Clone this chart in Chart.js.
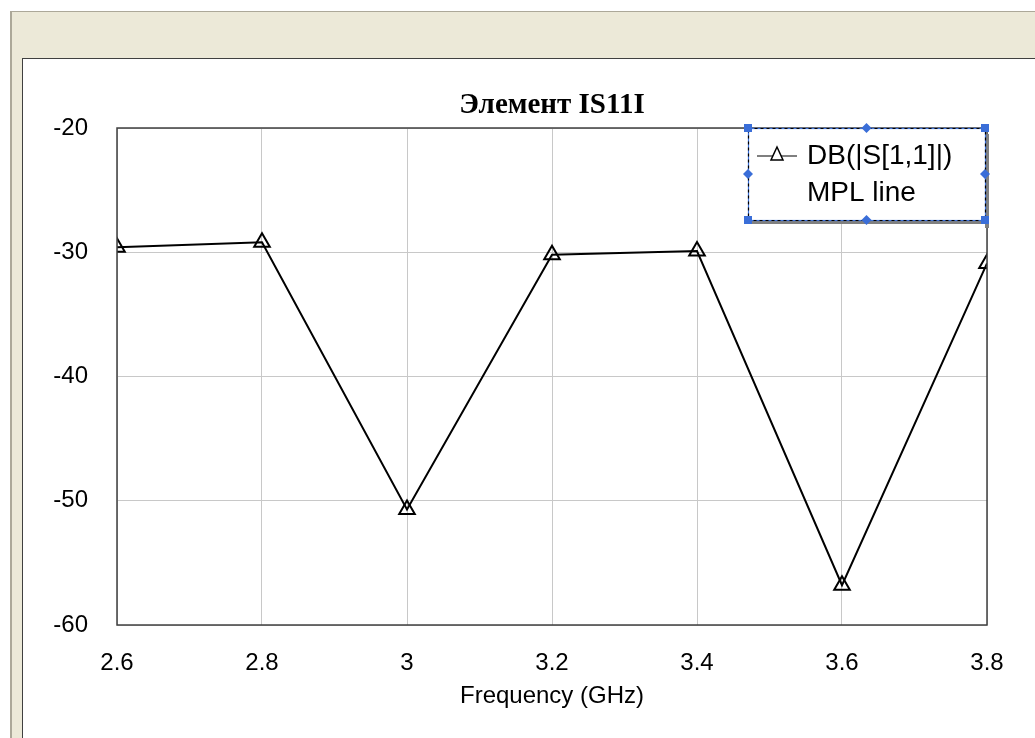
<!DOCTYPE html>
<html>
<head>
<meta charset="utf-8">
<script src="https://cdn.jsdelivr.net/npm/chart.js@4/dist/chart.umd.min.js"></script>
<style>
  body { margin: 0; background: #ffffff; width: 1035px; height: 738px; overflow: hidden; }
  #frame { position: absolute; left: 10px; top: 11px; width: 1025px; height: 727px;
    background: #ece9d8; border-left: 2px solid #aca899; border-top: 1px solid #aca899; box-sizing: border-box; }
  #panel { position: absolute; left: 22px; top: 58px; width: 1013px; height: 680px;
    background: #ffffff; border-left: 1px solid #404040; border-top: 1px solid #404040; box-sizing: border-box; }
  #chart { position: absolute; left: 0; top: 0; }
</style>
</head>
<body>
<div id="frame"></div>
<div id="panel">
  <canvas id="chart" width="1012" height="679"></canvas>
</div>
<script>
// ==================== données ====================
const freqs = [2.6, 2.8, 3.0, 3.2, 3.4, 3.6, 3.8];
const s11 = [-29.6, -29.2, -50.7, -30.2, -29.9, -56.8, -30.9];
const chartTitle = "Элемент IS11I";
const legendLines = ["DB(|S[1,1]|)", "MPL line"];
const xTitle = "Frequency (GHz)";

const points = freqs.map((f, i) => ({ x: f, y: s11[i] }));
const tickFont = { family: "'Liberation Sans', Arial", size: 24 };

// titre centré sur la zone du graphique
const titlePlugin = {
  id: "plotTitle",
  afterDraw(chart) {
    const ctx = chart.ctx;
    const area = chart.chartArea;
    ctx.save();
    ctx.font = "bold 29px 'Liberation Serif'";
    ctx.fillStyle = "#000";
    ctx.textAlign = "center";
    ctx.textBaseline = "alphabetic";
    ctx.fillText(chartTitle, (area.left + area.right) / 2, area.top - 15);
    ctx.restore();
  }
};

// cadre autour de la zone + légende sélectionnée
const framePlugin = {
  id: "plotFrame",
  afterDraw(chart) {
    const ctx = chart.ctx;
    const a = chart.chartArea;
    ctx.save();
    ctx.strokeStyle = "#404040";
    ctx.lineWidth = 1.5;
    ctx.strokeRect(a.left, a.top, a.right - a.left, a.bottom - a.top);

    // légende
    const bx = a.right - 239, by = a.top, bw = 237, bh = 92;
    ctx.fillStyle = "#808080";
    ctx.fillRect(bx + bw, by + 6, 4, bh + 2);
    ctx.fillRect(bx + 4, by + bh, bw, 4);
    ctx.fillStyle = "#fff";
    ctx.fillRect(bx, by, bw, bh);
    ctx.lineWidth = 1.2;
    ctx.strokeStyle = "#3a6ed8";
    ctx.strokeRect(bx + 0.5, by + 0.5, bw, bh);
    ctx.setLineDash([3, 3]);
    ctx.strokeStyle = "#000";
    ctx.strokeRect(bx + 0.5, by + 0.5, bw, bh);
    ctx.setLineDash([]);

    // échantillon
    const sy = by + 28;
    ctx.strokeStyle = "#000";
    ctx.lineWidth = 1.2;
    ctx.beginPath();
    ctx.moveTo(bx + 9, sy);
    ctx.lineTo(bx + 49, sy);
    ctx.stroke();
    ctx.fillStyle = "#fff";
    ctx.lineWidth = 1.5;
    ctx.beginPath();
    ctx.moveTo(bx + 29, sy - 9);
    ctx.lineTo(bx + 35, sy + 4);
    ctx.lineTo(bx + 23, sy + 4);
    ctx.closePath();
    ctx.fill();
    ctx.stroke();

    ctx.fillStyle = "#000";
    ctx.font = "28px 'Liberation Sans', Arial";
    ctx.textAlign = "left";
    ctx.textBaseline = "middle";
    ctx.fillText(legendLines[0], bx + 59, by + 28);
    ctx.fillText(legendLines[1], bx + 59, by + 65);

    // poignées de sélection
    ctx.fillStyle = "#3a6ed8";
    const corners = [[bx, by], [bx + bw, by], [bx, by + bh], [bx + bw, by + bh]];
    corners.forEach(c => ctx.fillRect(c[0] - 4, c[1] - 4, 8, 8));
    const mids = [[bx + bw / 2, by], [bx, by + bh / 2], [bx + bw, by + bh / 2], [bx + bw / 2, by + bh]];
    mids.forEach(m => {
      ctx.beginPath();
      ctx.moveTo(m[0], m[1] - 5);
      ctx.lineTo(m[0] + 5, m[1]);
      ctx.lineTo(m[0], m[1] + 5);
      ctx.lineTo(m[0] - 5, m[1]);
      ctx.closePath();
      ctx.fill();
    });
    ctx.restore();
  }
};

const ctx = document.getElementById("chart").getContext("2d");
const chart = new Chart(ctx, {
  type: "line",
  data: {
    datasets: [
      {
        label: legendLines[0],
        data: points,
        borderColor: "#000",
        borderWidth: 2,
        backgroundColor: "rgba(255,255,255,0)",
        pointStyle: "triangle",
        pointRadius: 9,
        pointBorderWidth: 2,
        pointBorderColor: "#000",
        pointBackgroundColor: "rgba(255,255,255,0)",
        tension: 0,
      },
    ],
  },
  plugins: [titlePlugin, framePlugin],
  options: {
    responsive: false,
    animation: false,
    layout: { padding: { left: 0, top: 69, right: 48, bottom: 0 } },
    plugins: {
      legend: { display: false },
      title: { display: false },
      tooltip: { enabled: false },
    },
    scales: {
      x: {
        type: "linear",
        min: 2.6,
        max: 3.8,
        afterFit(scale) { scale.height = 113; },
        ticks: {
          stepSize: 0.2,
          color: "#000",
          padding: 24,
          maxRotation: 0,
          font: tickFont,
          callback: (v) => String(Math.round(v * 10) / 10),
        },
        grid: { color: "#c8c8c8", lineWidth: 1, drawTicks: false },
        border: { display: false },
        title: {
          display: true,
          text: xTitle,
          color: "#000",
          font: tickFont,
          padding: { top: 0, bottom: 27 },
        },
      },
      y: {
        min: -60,
        max: -20,
        afterFit(scale) { scale.width = 94; },
        ticks: {
          stepSize: 10,
          color: "#000",
          padding: 29,
          font: tickFont,
        },
        grid: { color: "#c8c8c8", lineWidth: 1, drawTicks: false },
        border: { display: false },
      },
    },
  },
});
</script>
</body>
</html>
